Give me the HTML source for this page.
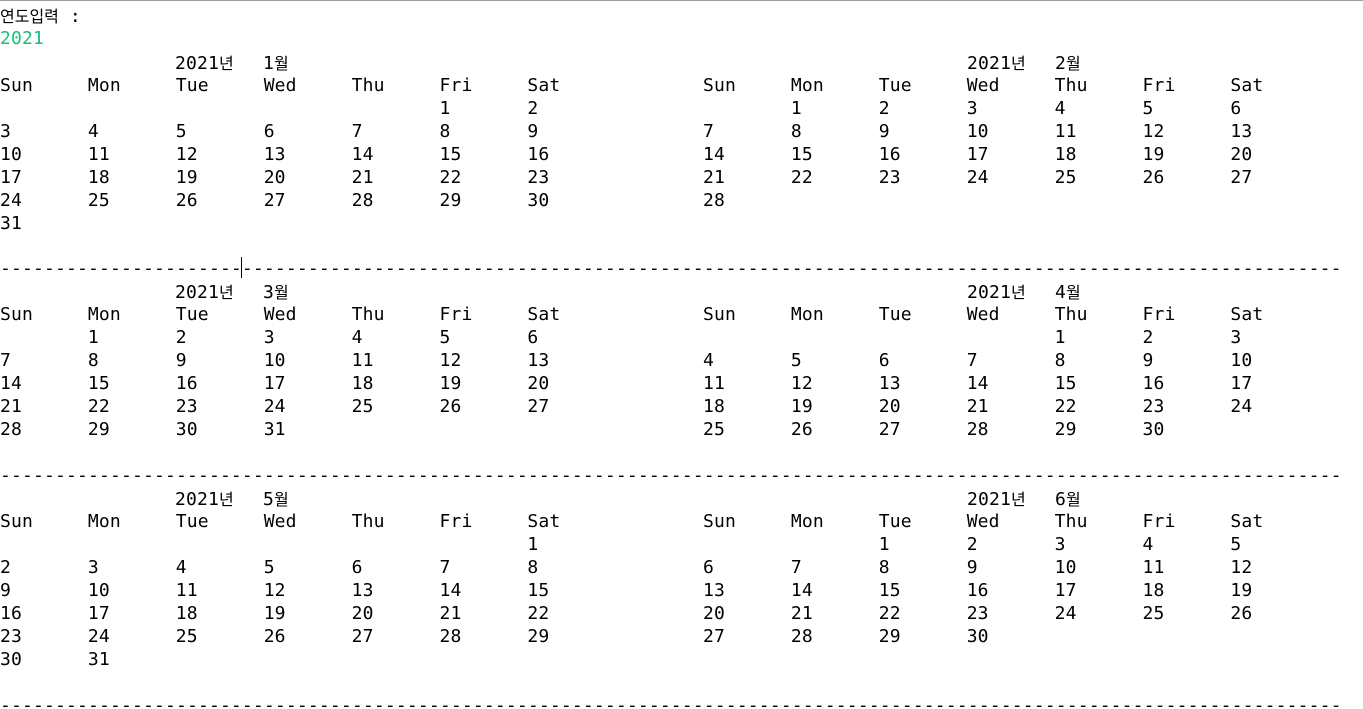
<!DOCTYPE html>
<html><head><meta charset="utf-8"><style>
html,body{margin:0;padding:0;background:#fff;width:1363px;height:709px;overflow:hidden;position:relative}
.t{position:absolute;height:23px;line-height:23px;white-space:pre;font-family:"DejaVu Sans Mono","Liberation Mono","Noto Sans CJK KR",monospace;font-size:18px;letter-spacing:0.16px;color:#000}
.k{font-family:"Noto Sans CJK KR","NanumGothic",sans-serif;font-size:16px;letter-spacing:0}
#topline{position:absolute;left:0;top:0;width:1363px;height:1px;background:#a0a0a0}
#cursor{position:absolute;left:241px;top:257px;width:1px;height:21px;background:#000}
</style></head><body>
<div id="topline"></div>
<div class="t" style="left:0;top:4px"><span class="k">연도입력</span> :</div>
<div class="t" style="left:0;top:27px;color:#16c07a">2021</div>
<div id="cursor"></div>
<div id="out"></div>
<script>
const year = 2021;
const months = [1,2,3,4,5,6];
const dayNames = ["Sun","Mon","Tue","Wed","Thu","Fri","Sat"];
const lineH = 22.95, line0 = 16.5;
const colW = 87.9, rightX = 703;
const out = document.getElementById('out');
function put(x, line, html, name, cls){
  const el = document.createElement('div');
  el.className = 't' + (cls ? ' ' + cls : '');
  el.style.left = x + 'px';
  el.style.top = (line0 + line * lineH - 11.5) + 'px';
  el.innerHTML = html;
  
  
  out.appendChild(el);
}
let line = 2;
for (let p = 0; p < months.length; p += 2) {
  let maxRows = 0;
  [0,1].forEach(side => {
    const m = months[p + side];
    const bx = side ? rightX : 0;
    const hx = side ? 967 : 175;
    put(hx, line, year + '<span class="k">년</span>', 'month-title-year');
    put(hx + 88, line, m + '<span class="k">월</span>', 'month-title-month');
    dayNames.forEach((d, i) => put(bx + i * colW, line + 1, d, 'weekday-header'));
    const first = new Date(year, m - 1, 1).getDay();
    const days = new Date(year, m, 0).getDate();
    let rows = 0;
    for (let d = 1; d <= days; d++) {
      const idx = first + d - 1;
      const r = Math.floor(idx / 7), c = idx % 7;
      put(bx + c * colW, line + 2 + r, String(d), 'day-cell');
      rows = Math.max(rows, r + 1);
    }
    maxRows = Math.max(maxRows, rows);
  });
  line = line + 2 + maxRows + 1;
  put(0, line, '-'.repeat(122), 'separator-line');
  line += 1;
}
</script>
</body></html>
